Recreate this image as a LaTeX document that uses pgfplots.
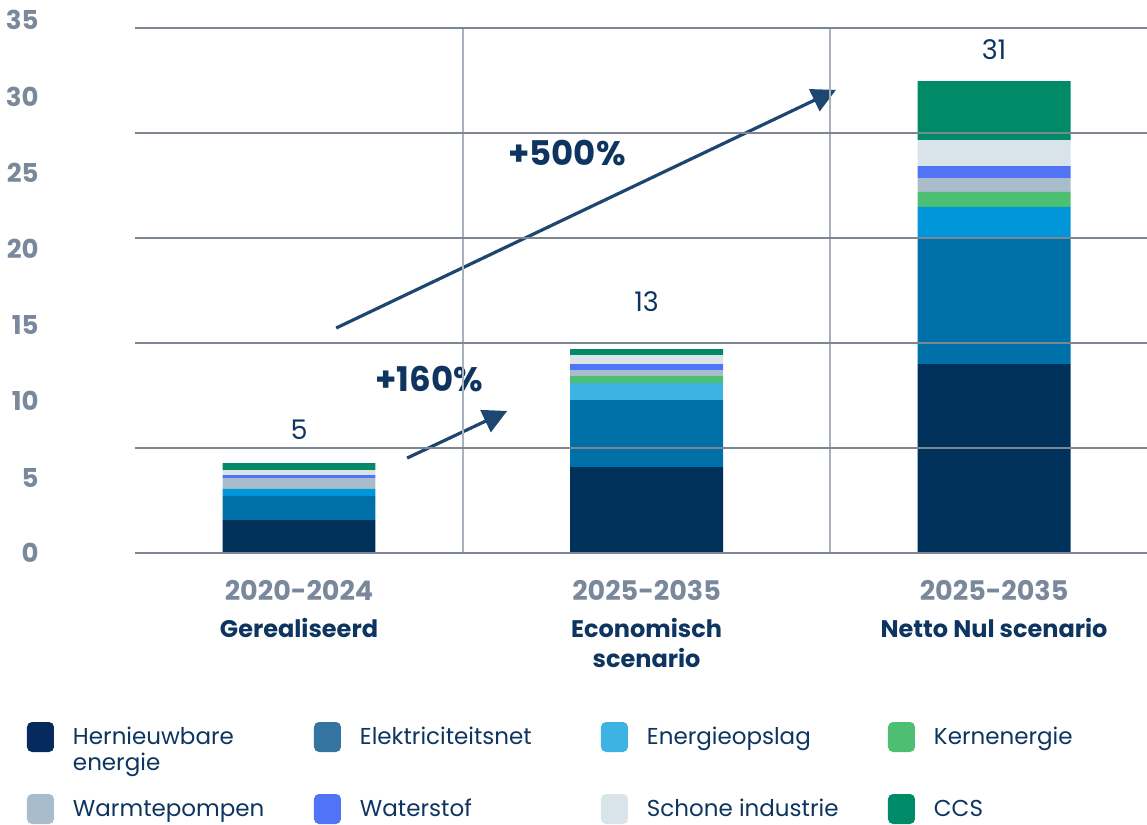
\documentclass[border=0pt]{standalone}
\usepackage{fontspec}
\setmainfont{Poppins}
\usepackage{pgfplots}
\pgfplotsset{compat=1.18}
\usetikzlibrary{arrows.meta}
\definecolor{cH}{HTML}{00315A}
\definecolor{cE}{HTML}{0071A8}
\definecolor{cO}{HTML}{0096D9}
\definecolor{cOl}{HTML}{3DB3E3}
\definecolor{cK}{HTML}{4CBF73}
\definecolor{cW}{HTML}{A9BCCC}
\definecolor{cWs}{HTML}{5074F5}
\definecolor{cS}{HTML}{D9E4EA}
\definecolor{cC}{HTML}{008A68}
\definecolor{lgH}{HTML}{062A5E}
\definecolor{lgE}{HTML}{3573A1}
\definecolor{gridgrey}{HTML}{7D8792}
\definecolor{vgrey}{HTML}{A9B2BC}
\definecolor{tickgrey}{HTML}{7A889C}
\definecolor{labnavy}{HTML}{0D3560}
\definecolor{arrowcol}{HTML}{1D4770}
\pgfplotsset{lg/.style={legend image code/.code={\fill[fill=#1,rounded corners=2.5pt] (0pt,-3.8pt) rectangle (13.5pt,11.2pt);}}}
\begin{document}
\begin{tikzpicture}
\path[use as bounding box] (-67.5pt,-136pt) rectangle (506pt,276.5pt);
\begin{axis}[
  at={(0,0)}, anchor=south west,
  scale only axis, width=506pt, height=267pt,
  xmin=-0.472, xmax=2.44, ymin=0, ymax=35.6,
  ybar stacked, bar width=0.44,
  axis on top,
  axis line style={draw=none},
  tick style={draw=none},
  major tick length=0pt,
  xtick={0,1,2},
  xticklabels={
    {{\fontsize{13.5}{15}\selectfont\color{tickgrey}2020-2024}\\[3.5pt]Gerealiseerd},
    {{\fontsize{13.5}{15}\selectfont\color{tickgrey}2025-2035}\\[3.5pt]Economisch\\scenario},
    {{\fontsize{13.5}{15}\selectfont\color{tickgrey}2025-2035}\\[3.5pt]Netto Nul scenario}},
  xticklabel style={font=\fontsize{12}{15}\selectfont\bfseries, text=labnavy, align=center, anchor=north, inner sep=0pt, yshift=-13.5pt},
  ytick={0,5,10.13,15.2,20.27,25.33,30.4,35.53},
  yticklabels={0,5,10,15,20,25,30,35},
  yticklabel style={font=\fontsize{13}{15}\selectfont\bfseries, text=tickgrey, anchor=east, inner sep=0pt, xshift=-48pt},
  extra y ticks={0,7,14,21,28,35},
  extra y tick labels={},
  extra y tick style={grid=major, major grid style={draw=gridgrey, line width=0.75pt}},
  legend columns=4,
  legend style={draw=none, fill=none, inner sep=0pt, outer sep=0pt,
    at={(0,0)}, anchor=north west, xshift=-54pt, yshift=-84.5pt,
    font=\fontsize{11.5}{13}\selectfont, text=labnavy,
    cells={anchor=base west, inner sep=0pt},
    row sep=21pt,
    /tikz/every odd column/.append style={column sep=7.5pt},
    /tikz/every even column/.append style={column sep=0.5pt}},
]
\addplot[fill=cH, draw=none, lg=lgH] coordinates {(0,2.2) (1,5.73) (2,12.6)};
\addlegendentry{\parbox[t]{118pt}{Hernieuwbare\\energie}}
\addplot[fill=cE, draw=none, lg=lgE] coordinates {(0,1.6) (1,4.47) (2,8.4)};
\addlegendentry{\parbox[t]{118pt}{Elektriciteitsnet}}
\addplot[fill=cO, draw=none, lg=cOl] coordinates {(0,0.47) (1,0) (2,2.07)};
\addlegendentry{\parbox[t]{118pt}{Energieopslag}}
\addplot[fill=cOl, draw=none, forget plot] coordinates {(0,0) (1,1.13) (2,0)};
\addplot[fill=cK, draw=none, lg=cK] coordinates {(0,0) (1,0.47) (2,1.0)};
\addlegendentry{\parbox[t]{118pt}{Kernenergie}}
\addplot[fill=cW, draw=none, lg=cW] coordinates {(0,0.73) (1,0.4) (2,0.93)};
\addlegendentry{\parbox[t]{118pt}{Warmtepompen}}
\addplot[fill=cWs, draw=none, lg=cWs] coordinates {(0,0.2) (1,0.4) (2,0.8)};
\addlegendentry{\parbox[t]{118pt}{Waterstof}}
\addplot[fill=cS, draw=none, lg=cS] coordinates {(0,0.33) (1,0.6) (2,1.73)};
\addlegendentry{\parbox[t]{118pt}{Schone industrie}}
\addplot[fill=cC, draw=none, lg=cC] coordinates {(0,0.47) (1,0.4) (2,3.93)};
\addlegendentry{\parbox[t]{118pt}{CCS}}
\draw[vgrey, line width=0.75pt] (axis cs:0.472,0) -- (axis cs:0.472,35);
\draw[vgrey, line width=0.75pt] (axis cs:1.528,0) -- (axis cs:1.528,35);
\node[font=\fontsize{13.5}{16}\selectfont, text=labnavy] at (axis cs:0,8.2) {5};
\node[font=\fontsize{13.5}{16}\selectfont, text=labnavy] at (axis cs:1,16.73) {13};
\node[font=\fontsize{13.5}{16}\selectfont, text=labnavy] at (axis cs:2,33.53) {31};
\draw[arrowcol, line width=1.6pt, -{Triangle[length=12pt,width=12pt]}] (axis cs:0.311,6.33) -- (axis cs:0.599,9.47);
\draw[arrowcol, line width=1.6pt, -{Triangle[length=12pt,width=12pt]}] (axis cs:0.107,15.0) -- (axis cs:1.545,30.87);
\node[font=\fontsize{17}{19}\selectfont\bfseries, text=labnavy] at (axis cs:0.374,11.57) {+160\%};
\node[font=\fontsize{17}{19}\selectfont\bfseries, text=labnavy] at (axis cs:0.771,26.67) {+500\%};
\end{axis}
\end{tikzpicture}
\end{document}
